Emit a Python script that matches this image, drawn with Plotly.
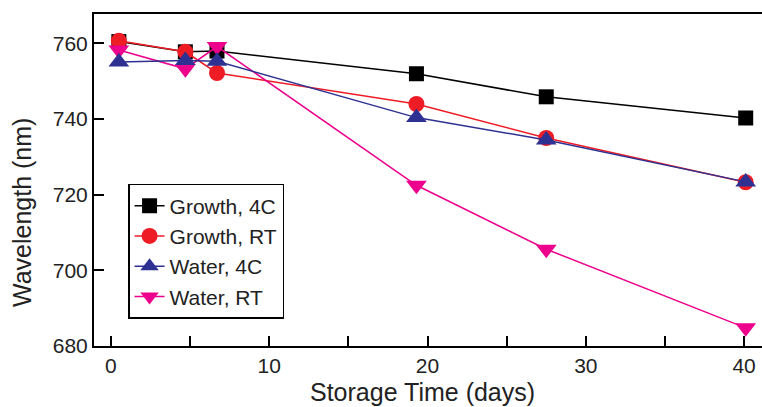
import plotly.graph_objects as go

days = [0.5, 4.7, 6.7, 19.3, 27.5, 40.1]
growth_4c = [760.5, 757.8, 758.0, 752.0, 745.9, 740.3]
growth_rt = [760.7, 757.8, 752.2, 744.0, 735.0, 723.3]
water_4c = [755.1, 755.5, 755.3, 740.4, 734.5, 723.4]
water_rt = [758.3, 753.3, 759.2, 722.5, 705.6, 684.8]

x_ticks = [0, 5, 10, 15, 20, 25, 30, 35, 40]
x_ticklabels = ["0", "", "10", "", "20", "", "30", "", "40"]
y_ticks = [680, 700, 720, 740, 760]

series = [
    ("Growth, 4C", growth_4c, "#000000", "square", 15, 1),
    ("Growth, RT", growth_rt, "#ee1c24", "circle", 16, 2),
    ("Water, RT", water_rt, "#ec008c", "triangle-down", 18, 4),
    ("Water, 4C", water_4c, "#2e3192", "triangle-up", 18, 3),
]

fig = go.Figure()
for name, ys, color, sym, size, rank in series:
    fig.add_trace(go.Scatter(
        x=days, y=ys, name=name, mode="lines+markers",
        line=dict(color=color, width=1.5),
        marker=dict(symbol=sym, size=size, color=color, line=dict(width=0)),
        legendrank=rank,
    ))

font = "Liberation Sans, Arial, sans-serif"
fig.update_layout(
    width=762, height=407,
    margin=dict(l=94, r=0, t=14, b=61),
    paper_bgcolor="white", plot_bgcolor="white",
    font=dict(family=font, color="#222222", size=21),
    showlegend=True,
    legend=dict(
        x=0.051, y=0.488, xanchor="left", yanchor="top",
        bordercolor="#000000", borderwidth=1.5, bgcolor="white",
        font=dict(size=21, family=font, color="#222222"),
        itemwidth=30,
    ),
    xaxis=dict(
        range=[-1.07, 41.13], tickvals=x_ticks, ticktext=x_ticklabels,
        ticks="inside", ticklen=10, tickwidth=2, tickcolor="#000000",
        showline=True, linecolor="#000000", linewidth=2, mirror=True,
        showgrid=False, zeroline=False,
        tickfont=dict(size=21),
    ),
    yaxis=dict(
        range=[680, 767.8], tickvals=y_ticks,
        ticks="inside", ticklen=10, tickwidth=2, tickcolor="#000000",
        showline=True, linecolor="#000000", linewidth=2,
        showgrid=False, zeroline=False,
        tickfont=dict(size=21),
    ),
    annotations=[
        dict(text="Storage Time (days)", xref="paper", yref="paper",
             x=0.4925, y=-0.1386, xanchor="center", yanchor="middle",
             showarrow=False, font=dict(size=25, family=font, color="#222222")),
        dict(text="Wavelength (nm)", xref="paper", yref="paper",
             x=-0.1078, y=0.4036, xanchor="center", yanchor="middle",
             textangle=-90, showarrow=False,
             font=dict(size=25, family=font, color="#222222")),
    ],
)

fig.write_html("out.html")
